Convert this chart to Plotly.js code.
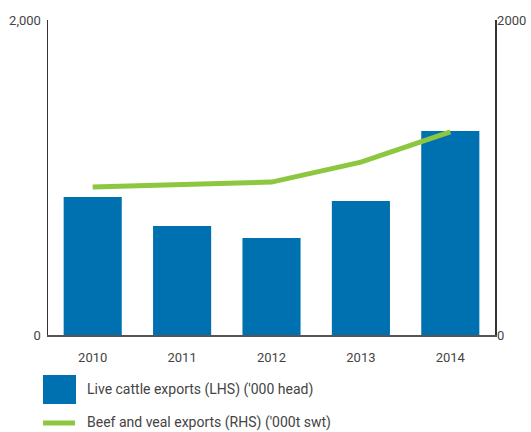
<!DOCTYPE html>
<html><head><meta charset="utf-8">
<script src="https://cdn.plot.ly/plotly-3.0.1.min.js"></script>
<style>html,body{margin:0;padding:0;background:#fff}#c{width:531px;height:432px}</style>
</head><body><div id="c"></div>
<script>
const years = ['2010','2011','2012','2013','2014'];
const liveCattle = [876, 692, 616, 851, 1295];
const beefVeal = [940, 952, 971, 1098, 1289];
const leftTickVals = [0, 2000];
const leftTickText = ['0', '2,000'];
const rightTickText = ['0', '2000'];
const legendLabels = ["Live cattle exports (LHS) ('000 head)", "Beef and veal exports (RHS) ('000t swt)"];

const fontFam = 'Roboto, "DejaVu Sans", sans-serif';
const data = [
  {type:'bar', x: years, y: liveCattle, name: legendLabels[0], marker:{color:'#0071b0'}, width:0.65, yaxis:'y'},
  {type:'scatter', mode:'lines', x: years, y: beefVeal, name: legendLabels[1], line:{color:'#8dc63f', width:5}, yaxis:'y2'}
];
const layout = {
  width:531, height:432,
  margin:{l:48, r:36, t:20, b:97},
  showlegend:false,
  paper_bgcolor:'#fff', plot_bgcolor:'#fff',
  font:{family:fontFam, size:13, color:'#444'},
  xaxis:{type:'category', range:[-0.5,4.5], showline:true, linecolor:'#555', linewidth:1.5, showgrid:false, zeroline:false, ticks:'', ticklabelstandoff:10, tickfont:{size:13, color:'#444'}},
  yaxis:{range:[0,2000], tickvals:leftTickVals, ticktext:leftTickText, showline:true, linecolor:'#333', linewidth:1.5, showgrid:false, zeroline:false, ticks:'', ticklabelstandoff:3, tickfont:{size:13, color:'#444'}},
  yaxis2:{range:[0,2000], overlaying:'y', side:'right', tickvals:leftTickVals, ticktext:rightTickText, showline:true, linecolor:'#333', linewidth:1.5, showgrid:false, zeroline:false, ticks:'', ticklabelstandoff:-2, tickfont:{size:13, color:'#444'}},
  shapes:[
    {type:'rect', xref:'paper', yref:'paper', x0:-5/447, x1:28/447, y0:(335-404)/315, y1:(335-375)/315, fillcolor:'#0071b0', line:{width:0}},
    {type:'line', xref:'paper', yref:'paper', x0:-5/447, x1:27/447, y0:(335-423)/315, y1:(335-423)/315, line:{color:'#8dc63f', width:5}}
  ],
  annotations:[
    {xref:'paper', yref:'paper', x:37/447, y:(335-389)/315, xanchor:'left', yanchor:'middle', text:legendLabels[0], showarrow:false, font:{size:14, color:'#444'}},
    {xref:'paper', yref:'paper', x:37/447, y:(335-423)/315, xanchor:'left', yanchor:'middle', text:legendLabels[1], showarrow:false, font:{size:14, color:'#444'}}
  ]
};
Plotly.newPlot('c', data, layout, {displayModeBar:false, staticPlot:true});
</script></body></html>
